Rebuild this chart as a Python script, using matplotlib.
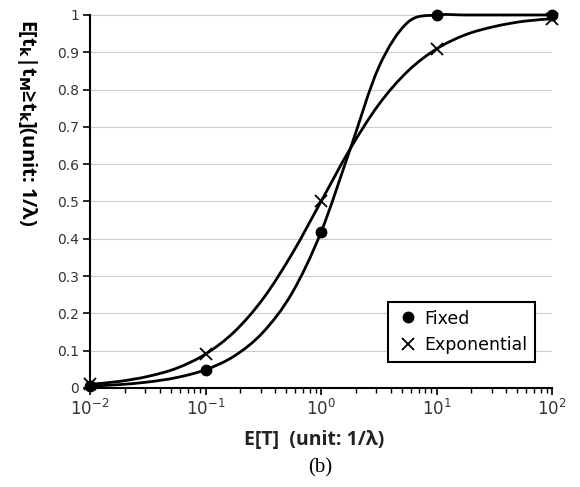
import matplotlib
matplotlib.use('Agg')
import matplotlib.pyplot as plt
from matplotlib.path import Path
from matplotlib.patches import PathPatch
import numpy as np

# marker values
x_vals = [0.01, 0.1, 1, 10, 100]
fixed_vals = [0.005, 0.049, 0.418, 1.0, 1.0]
expo_vals = [0.0099, 0.091, 0.5, 0.909, 0.990]

# curve values, every quarter decade
curve_x = [0.01, 0.0178, 0.0316, 0.0562, 0.1, 0.178, 0.316, 0.562, 1,
           1.778, 3.162, 5.623, 10, 17.78, 31.62, 56.23, 100]
fixed_curve = [0.005, 0.009, 0.016, 0.028, 0.049, 0.086, 0.150, 0.255, 0.418,
               0.638, 0.860, 0.980, 1.0, 1.0, 1.0, 1.0, 1.0]
expo_curve = [0.0099, 0.0175, 0.031, 0.053, 0.091, 0.151, 0.240, 0.360, 0.5,
              0.640, 0.760, 0.849, 0.909, 0.947, 0.969, 0.983, 0.990]

y_ticks = [0, 0.1, 0.2, 0.3, 0.4, 0.5, 0.6, 0.7, 0.8, 0.9, 1]
y_tick_labels = ['0', '0.1', '0.2', '0.3', '0.4', '0.5', '0.6', '0.7', '0.8', '0.9', '1']

plt.rcParams['font.family'] = ['DejaVu Sans']
plt.rcParams['mathtext.default'] = 'regular'


def smooth_path(xs, ys):
    # smoothed line through the read points: Catmull-Rom bezier in (log x, y)
    lx = np.log10(np.asarray(xs, float))
    pts = np.column_stack([lx, np.asarray(ys, float)])
    n = len(pts)
    verts = [pts[0]]
    codes = [Path.MOVETO]
    for i in range(n - 1):
        p0 = pts[i - 1] if i > 0 else pts[i]
        p1, p2 = pts[i], pts[i + 1]
        p3 = pts[i + 2] if i + 2 < n else pts[i + 1]
        verts += [p1 + (p2 - p0) / 6.0, p2 - (p3 - p1) / 6.0, p2]
        codes += [Path.CURVE4] * 3
    verts = np.array(verts)
    verts[:, 0] = 10 ** verts[:, 0]
    return Path(verts, codes)


fig = plt.figure(figsize=(5.8, 4.87), dpi=100)
ax = fig.add_axes([0.1552, 0.2033, 0.7966, 0.7659])
ax.set_xscale('log')
ax.set_xlim(0.01, 100)
ax.set_ylim(0, 1)

for yv in y_ticks[1:]:
    ax.axhline(yv, color='#cccccc', lw=0.8, zorder=0)

for ys in (fixed_curve, expo_curve):
    ax.add_patch(PathPatch(smooth_path(curve_x, ys), fill=False, ec='black', lw=2.0,
                           zorder=3, clip_on=False))

ax.plot(x_vals, fixed_vals, 'o', color='black', ms=7.5, label='Fixed', zorder=4, clip_on=False)
ax.plot(x_vals, expo_vals, 'x', color='black', ms=9, mew=1.3, label='Exponential', zorder=4, clip_on=False)

ax.spines['top'].set_visible(False)
ax.spines['right'].set_visible(False)
ax.spines['left'].set_linewidth(1.5)
ax.spines['bottom'].set_linewidth(1.5)

ax.set_yticks(y_ticks)
ax.set_yticklabels(y_tick_labels)
ax.tick_params(axis='y', direction='out', length=5, width=1.2, labelsize=10, labelcolor='#333333', pad=3)
ax.tick_params(axis='x', which='major', direction='out', length=5, width=1.2, labelsize=12, labelcolor='#333333', pad=3)
ax.tick_params(axis='x', which='minor', direction='out', length=3.5, width=1.0)

fig.text(0.541, 0.0965, 'E[T]  (unit: 1/λ)', fontsize=14, fontweight='bold', family='Open Sans',
         color='#222222', ha='center', va='center')
fig.text(0.0466, 0.749, r'E[t$_\mathbf{k}$|t$_\mathbf{M}$≥t$_\mathbf{k}$](unit: 1/λ)',
         rotation=-90, fontsize=14.5, fontweight='bold', family='Open Sans', ha='center', va='center')
fig.text(0.552, 0.039, '(b)', fontsize=15, family='Liberation Serif', ha='center', va='center')

leg = ax.legend(loc='lower right', bbox_to_anchor=(0.963, 0.0697), fontsize=12.5, frameon=True,
                fancybox=False, handlelength=1.4, handletextpad=0.2, borderpad=0.45,
                labelspacing=0.5, borderaxespad=0)
leg.get_frame().set_edgecolor('black')
leg.get_frame().set_linewidth(1.5)
leg.get_frame().set_alpha(1)

plt.savefig('out.png', dpi=100)
